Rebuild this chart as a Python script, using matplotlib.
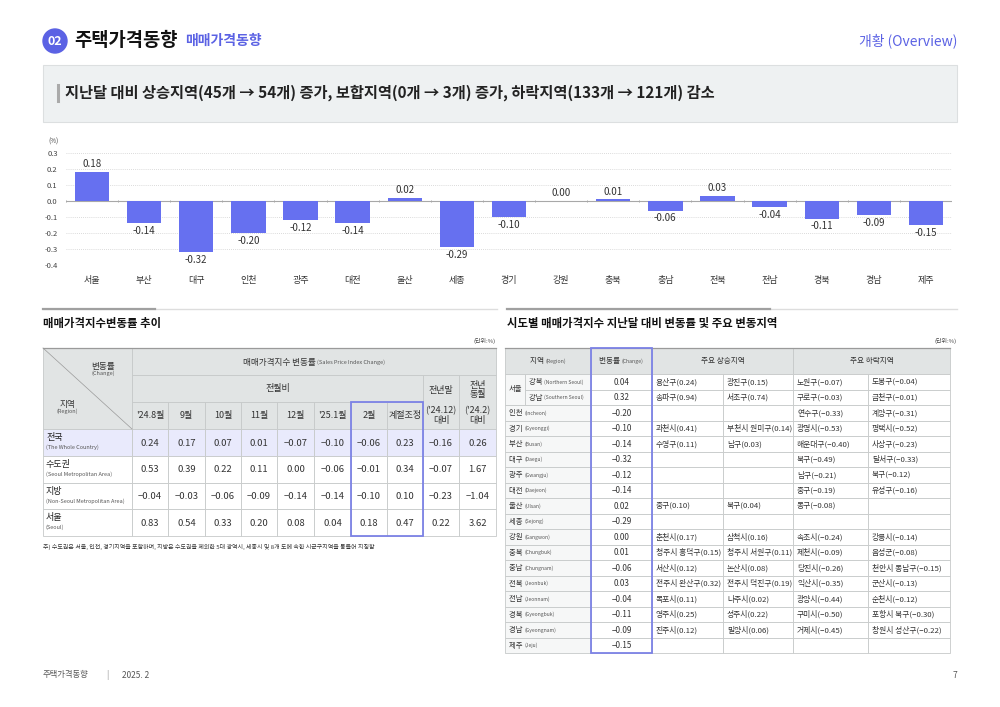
import matplotlib
matplotlib.use("Agg")
import matplotlib.pyplot as plt
from matplotlib.patches import Rectangle, Circle
import numpy as np

FONT = ['Noto Sans CJK KR', 'DejaVu Sans']
plt.rcParams['font.family'] = FONT
plt.rcParams['axes.unicode_minus'] = False

# ---------------- data ----------------
bar_regions = ['서울', '부산', '대구', '인천', '광주', '대전', '울산', '세종', '경기',
               '강원', '충북', '충남', '전북', '전남', '경북', '경남', '제주']
bar_values = [0.18, -0.14, -0.32, -0.20, -0.12, -0.14, 0.02, -0.29, -0.10,
              0.00, 0.01, -0.06, 0.03, -0.04, -0.11, -0.09, -0.15]
y_ticks = [0.3, 0.2, 0.1, 0.0, -0.1, -0.2, -0.3, -0.4]

trend_months = ["'24.8월", "9월", "10월", "11월", "12월", "'25.1월", "2월", "계절조정"]
trend_rows_kr = ['전국', '수도권', '지방', '서울']
trend_rows_en = ['(The Whole Country)', '(Seoul Metropolitan Area)',
                 '(Non-Seoul Metropolitan Area)', '(Seoul)']
trend_national = [0.24, 0.17, 0.07, 0.01, -0.07, -0.10, -0.06, 0.23, -0.16, 0.26]
trend_capital = [0.53, 0.39, 0.22, 0.11, 0.00, -0.06, -0.01, 0.34, -0.07, 1.67]
trend_local = [-0.04, -0.03, -0.06, -0.09, -0.14, -0.14, -0.10, 0.10, -0.23, -1.04]
trend_seoul = [0.83, 0.54, 0.33, 0.20, 0.08, 0.04, 0.18, 0.47, 0.22, 3.62]

sido_kr = ['강북', '강남', '인천', '경기', '부산', '대구', '광주', '대전', '울산', '세종',
           '강원', '충북', '충남', '전북', '전남', '경북', '경남', '제주']
sido_en = ['(Northern Seoul)', '(Southern Seoul)', '(Incheon)', '(Gyeonggi)', '(Busan)',
           '(Daegu)', '(Gwangju)', '(Daejeon)', '(Ulsan)', '(Sejong)', '(Gangwon)',
           '(Chungbuk)', '(Chungnam)', '(Jeonbuk)', '(Jeonnam)', '(Gyeongbuk)',
           '(Gyeongnam)', '(Jeju)']
sido_change = [0.04, 0.32, -0.20, -0.10, -0.14, -0.32, -0.12, -0.14, 0.02, -0.29,
               0.00, 0.01, -0.06, 0.03, -0.04, -0.11, -0.09, -0.15]
rise1_name = ['용산구', '송파구', '', '과천시', '수영구', '', '', '', '중구', '',
              '춘천시', '청주시 흥덕구', '서산시', '전주시 완산구', '목포시', '영주시', '진주시', '']
rise1_val = [0.24, 0.94, None, 0.41, 0.11, None, None, None, 0.10, None,
             0.17, 0.15, 0.12, 0.32, 0.11, 0.25, 0.12, None]
rise2_name = ['광진구', '서초구', '', '부천시 원미구', '남구', '', '', '', '북구', '',
              '삼척시', '청주시 서원구', '논산시', '전주시 덕진구', '나주시', '성주시', '밀양시', '']
rise2_val = [0.15, 0.74, None, 0.14, 0.03, None, None, None, 0.04, None,
             0.16, 0.11, 0.08, 0.19, 0.02, 0.22, 0.06, None]
fall1_name = ['노원구', '구로구', '연수구', '광명시', '해운대구', '북구', '남구', '중구', '동구', '',
              '속초시', '제천시', '당진시', '익산시', '광양시', '구미시', '거제시', '']
fall1_val = [-0.07, -0.03, -0.33, -0.53, -0.40, -0.49, -0.21, -0.19, -0.08, None,
             -0.24, -0.09, -0.26, -0.35, -0.44, -0.50, -0.45, None]
fall2_name = ['도봉구', '금천구', '계양구', '평택시', '사상구', '달서구', '북구', '유성구', '', '',
              '강릉시', '음성군', '천안시 동남구', '군산시', '순천시', '포항시 북구', '창원시 성산구', '']
fall2_val = [-0.04, -0.01, -0.31, -0.52, -0.23, -0.33, -0.12, -0.16, None, None,
             -0.14, -0.08, -0.15, -0.13, -0.12, -0.30, -0.22, None]

# ---------------- style ----------------
PURPLE = '#5b62e4'
BAR = '#6670f0'
HDR = '#e1e4e4'
LAV = '#e9eafc'
LINE = '#c6c9c9'
TXT = '#333333'

fig = plt.figure(figsize=(10, 7.07), dpi=100)
fig.patch.set_facecolor('white')
ov = fig.add_axes([0, 0, 1, 1])
ov.set_xlim(0, 1000)
ov.set_ylim(707, 0)
ov.axis('off')
renderer = fig.canvas.get_renderer()


def fmt(v):
    return f"{v:.2f}".replace('-', '\u2212')


def twidth(s, size, weight='normal'):
    t = ov.text(0, 0, s, fontsize=size, fontweight=weight)
    w = t.get_window_extent(renderer).width
    t.remove()
    return w


def mixed(x, y, parts, ha='left', va='center'):
    widths = [twidth(s, sz, wt) for s, sz, c, wt in parts]
    total = sum(widths)
    if ha == 'center':
        x = x - total / 2
    for (s, sz, c, wt), w in zip(parts, widths):
        ov.text(x, y, s, fontsize=sz, color=c, fontweight=wt, ha='left', va=va)
        x += w


def cell(x0, y0, x1, y1, fc='white', ec=LINE, lw=0.6):
    ov.add_patch(Rectangle((x0, y0), x1 - x0, y1 - y0, facecolor=fc, edgecolor=ec, lw=lw))


# ---------------- page header ----------------
ov.add_patch(Circle((55, 41), 12, color=PURPLE))
ov.text(55, 41.5, '02', color='white', fontsize=9, fontweight='bold', ha='center', va='center')
ov.text(74, 41, '주택가격동향', fontsize=13.5, fontweight='bold', color='#111111', va='center')
ov.text(185, 41, '매매가격동향', fontsize=10, fontweight='bold', color=PURPLE, va='center')
ov.text(957, 41, '개황 (Overview)', fontsize=10, color=PURPLE, ha='right', va='center')

ov.add_patch(Rectangle((43, 65), 914, 57, facecolor='#eef1f2', edgecolor='#dcdfe0', lw=0.8))
ov.plot([58, 58], [85, 101], color='#aaaaaa', lw=2.2)
ov.text(65, 93, '지난달 대비 상승지역(45개 \u2192 54개) 증가, 보합지역(0개 \u2192 3개) 증가, 하락지역(133개 \u2192 121개) 감소',
        fontsize=11, fontweight='bold', color='#222222', va='center')

# ---------------- bar chart ----------------
axL, axR, axT, axB = 66, 952, 153, 265
ax = fig.add_axes([axL / 1000, 1 - axB / 707, (axR - axL) / 1000, (axB - axT) / 707])
ax.set_facecolor('none')
x = np.arange(len(bar_regions))
ax.bar(x, bar_values, width=0.66, color=BAR, zorder=3)
ax.set_xlim(-0.5, len(bar_regions) - 0.5)
ax.set_ylim(-0.4, 0.3)
for t in y_ticks:
    if abs(t) < 1e-9:
        ax.axhline(t, color='#a8a8a8', lw=0.8, zorder=2)
    else:
        ax.axhline(t, color='#cfcfcf', lw=0.6, ls=(0, (1, 1.5)), zorder=1)
ax.vlines(np.arange(len(bar_regions) + 1) - 0.5, -0.006, 0.006, color='#a8a8a8', lw=0.7, zorder=2)
for s in ax.spines.values():
    s.set_visible(False)
ax.set_yticks(y_ticks)
ax.set_yticklabels([f"{t:.1f}" for t in y_ticks], fontsize=5.5, color='#444444')
ax.tick_params(axis='y', length=0, pad=6)
ax.set_xticks(x)
ax.set_xticklabels(bar_regions, fontsize=6.5, color='#333333')
ax.tick_params(axis='x', length=0, pad=8)
for xi, v in zip(x, bar_values):
    if v >= 0:
        ax.annotate(f"{v:.2f}", (xi, v), xytext=(0, 2), textcoords='offset points',
                    ha='center', va='bottom', fontsize=7, color='#333333')
    else:
        ax.annotate(f"{v:.2f}", (xi, v), xytext=(0, -2), textcoords='offset points',
                    ha='center', va='top', fontsize=7, color='#333333')
ov.text(48, 142, '(%)', fontsize=4.5, color='#444444', va='center')

# ---------------- section headers ----------------
for x0, x1, xd in [(43, 497, 155), (507, 957, 770)]:
    ov.plot([x0, x1], [309, 309], color='#dddddd', lw=1.0)
    ov.plot([x0, xd], [309, 309], color='#a0a0a0', lw=1.6)
ov.text(43, 323, '매매가격지수변동률 추이', fontsize=8.2, fontweight='bold', color='#111111', va='center')
ov.text(507, 323, '시도별 매매가격지수 지난달 대비 변동률 및 주요 변동지역', fontsize=8.2,
        fontweight='bold', color='#111111', va='center')
ov.text(496, 341, '(단위:%)', fontsize=4.3, color='#444444', ha='right', va='center')
ov.text(957, 341, '(단위:%)', fontsize=4.3, color='#444444', ha='right', va='center')

# ---------------- left table ----------------
cx = [43, 132, 168, 205, 241, 277, 314, 351, 387, 423, 459, 496]
ry = [348, 375, 402, 429, 456, 483, 509, 536]
cell(cx[0], ry[0], cx[1], ry[3], HDR)
ov.plot([cx[0], cx[1]], [ry[0], ry[3]], color='#9a9a9a', lw=0.5)
ov.text(103, 366, '변동률', fontsize=6.2, color=TXT, ha='center', va='center')
ov.text(103, 373, '(Change)', fontsize=4, color='#555555', ha='center', va='center')
ov.text(67, 404, '지역', fontsize=6.2, color=TXT, ha='center', va='center')
ov.text(67, 411, '(Region)', fontsize=4, color='#555555', ha='center', va='center')
cell(cx[1], ry[0], cx[11], ry[1], HDR)
mixed((cx[1] + cx[11]) / 2, 362, [('매매가격지수 변동률 ', 6.2, TXT, 'normal'),
                                   ('(Sales Price Index Change)', 4, '#555555', 'normal')], ha='center')
cell(cx[1], ry[1], cx[9], ry[2], HDR)
ov.text((cx[1] + cx[9]) / 2, 389, '전월비', fontsize=6.5, color=TXT, ha='center', va='center')
cell(cx[9], ry[1], cx[10], ry[3], HDR)
ov.text((cx[9] + cx[10]) / 2, 390, '전년말', fontsize=6.5, color=TXT, ha='center', va='center')
ov.text((cx[9] + cx[10]) / 2, 416, "('24.12)\n대비", fontsize=6.5, color=TXT, ha='center', va='center',
        linespacing=1.1)
cell(cx[10], ry[1], cx[11], ry[3], HDR)
ov.text((cx[10] + cx[11]) / 2, 390, '전년\n동월', fontsize=6.5, color=TXT, ha='center', va='center',
        linespacing=1.1)
ov.text((cx[10] + cx[11]) / 2, 416, "('24.2)\n대비", fontsize=6.5, color=TXT, ha='center', va='center',
        linespacing=1.1)
for i, m in enumerate(trend_months):
    cell(cx[1 + i], ry[2], cx[2 + i], ry[3], HDR)
    ov.text((cx[1 + i] + cx[2 + i]) / 2, (ry[2] + ry[3]) / 2, m, fontsize=6.5, color=TXT,
            ha='center', va='center')
trend_data = [trend_national, trend_capital, trend_local, trend_seoul]
for r, (kr, en, vals) in enumerate(zip(trend_rows_kr, trend_rows_en, trend_data)):
    fc = LAV if r == 0 else 'white'
    y0, y1 = ry[3 + r], ry[4 + r]
    cell(cx[0], y0, cx[1], y1, fc)
    ov.text(46, y0 + 8.5, kr, fontsize=6.5, color='#222222', va='center')
    ov.text(46, y0 + 18.5, en, fontsize=4, color='#555555', va='center')
    for c, v in enumerate(vals):
        cell(cx[1 + c], y0, cx[2 + c], y1, fc)
        ov.text((cx[1 + c] + cx[2 + c]) / 2, (y0 + y1) / 2 + 0.5, fmt(v), fontsize=6.8,
                color='#333333', ha='center', va='center')
ov.plot([cx[0], cx[11]], [ry[0], ry[0]], color='#9a9a9a', lw=0.9)
ov.add_patch(Rectangle((cx[7], ry[2]), cx[9] - cx[7], ry[7] - ry[2], facecolor='none',
                       edgecolor='#7c82e6', lw=1.3, zorder=5))
ov.text(43, 547, '주) 수도권은 서울, 인천, 경기지역을 포함하며, 지방은 수도권을 제외한 5대 광역시, 세종시 및 8개 도에 속한 시군구지역을 통틀어 지칭함',
        fontsize=4.3, color='#333333', va='center')

# ---------------- right table ----------------
sx = [505, 525, 591, 652, 723, 793, 868, 950]
top, hh = 348, 26
rh = 15.5
cell(sx[0], top, sx[2], top + hh, HDR)
mixed((sx[0] + sx[2]) / 2, top + hh / 2, [('지역 ', 5.5, TXT, 'normal'), ('(Region)', 3.8, '#555555', 'normal')],
      ha='center')
cell(sx[2], top, sx[3], top + hh, HDR)
mixed((sx[2] + sx[3]) / 2, top + hh / 2, [('변동률 ', 5.5, TXT, 'normal'), ('(Change)', 3.8, '#555555', 'normal')],
      ha='center')
cell(sx[3], top, sx[5], top + hh, HDR)
ov.text((sx[3] + sx[5]) / 2, top + hh / 2, '주요 상승지역', fontsize=5.5, color=TXT, ha='center', va='center')
cell(sx[5], top, sx[7], top + hh, HDR)
ov.text((sx[5] + sx[7]) / 2, top + hh / 2, '주요 하락지역', fontsize=5.5, color=TXT, ha='center', va='center')

y_start = top + hh
cell(sx[0], y_start, sx[1], y_start + 2 * rh, '#f6f7f7')
ov.text((sx[0] + sx[1]) / 2, y_start + rh, '서울', fontsize=5.3, color=TXT, ha='center', va='center')


def rtxt(name, val):
    if not name:
        return ''
    return f"{name}({fmt(val)})"


for i in range(len(sido_kr)):
    y0 = y_start + i * rh
    y1 = y0 + rh
    ym = (y0 + y1) / 2 + 0.3
    if i < 2:
        cell(sx[1], y0, sx[2], y1, '#f6f7f7')
        lx = sx[1] + 4
    else:
        cell(sx[0], y0, sx[2], y1, '#f6f7f7')
        lx = sx[0] + 4
    mixed(lx, ym, [(sido_kr[i] + ' ', 5.3, TXT, 'normal'), (sido_en[i], 3.6, '#555555', 'normal')])
    cell(sx[2], y0, sx[3], y1)
    ov.text((sx[2] + sx[3]) / 2, ym, fmt(sido_change[i]), fontsize=5.8, color=TXT, ha='center', va='center')
    cols = [(rise1_name, rise1_val), (rise2_name, rise2_val), (fall1_name, fall1_val), (fall2_name, fall2_val)]
    for c, (nm, vl) in enumerate(cols):
        cell(sx[3 + c], y0, sx[4 + c], y1)
        ov.text(sx[3 + c] + 4, ym, rtxt(nm[i], vl[i]), fontsize=5.6, color=TXT, ha='left', va='center')
bottom = y_start + len(sido_kr) * rh
ov.plot([sx[0], sx[7]], [top, top], color='#9a9a9a', lw=0.9)
ov.add_patch(Rectangle((sx[2], top), sx[3] - sx[2], bottom - top, facecolor='none',
                       edgecolor='#7c82e6', lw=1.3, zorder=5))

# ---------------- footer ----------------
ov.text(43, 675, '주택가격동향', fontsize=6, color='#555555', va='center')
ov.text(106, 675, '|', fontsize=6, color='#888888', va='center')
ov.text(122, 675, '2025. 2', fontsize=6, color='#555555', va='center')
ov.text(957, 675, '7', fontsize=6, color='#555555', ha='right', va='center')

fig.savefig('out.png', dpi=100, facecolor='white')
